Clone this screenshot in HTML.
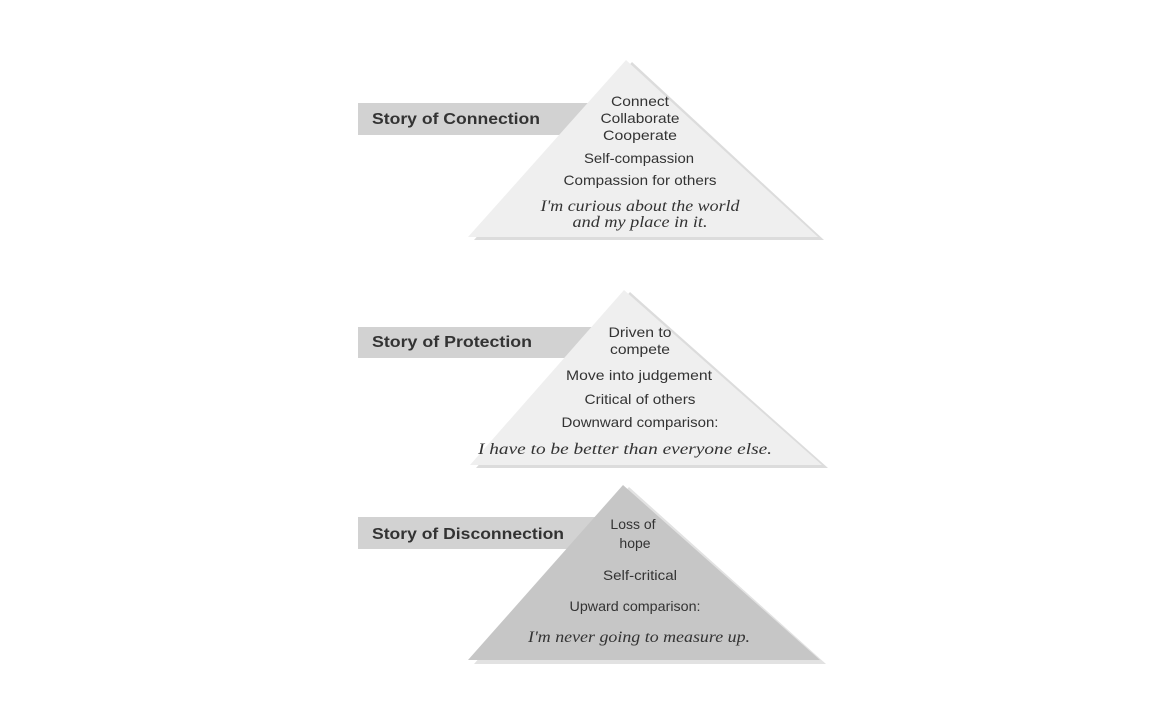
<!DOCTYPE html>
<html><head><meta charset="utf-8"><style>
html,body{margin:0;padding:0;background:#fff;}
svg{display:block}
.t{font-family:"Liberation Sans",sans-serif;font-size:14px;fill:#333;text-anchor:middle}
.i{font-family:"Liberation Serif",serif;font-style:italic;font-size:16px;fill:#333;text-anchor:middle}
.b{font-family:"Liberation Sans",sans-serif;font-weight:bold;font-size:16px;fill:#333}
</style></head><body>
<svg width="1170" height="725" viewBox="0 0 1170 725">
<!-- 1 -->
<rect x="358" y="103" width="260" height="32" fill="#d2d2d2"/>
<polygon points="632,62 824,240 474,240" fill="#dcdcdc"/>
<polygon points="626,60 818,237 468,237" fill="#efefef"/>
<text class="b" x="372" y="124" textLength="168" lengthAdjust="spacingAndGlyphs">Story of Connection</text>
<text class="t" x="640" y="106" textLength="58" lengthAdjust="spacingAndGlyphs">Connect</text>
<text class="t" x="640" y="123" textLength="79" lengthAdjust="spacingAndGlyphs">Collaborate</text>
<text class="t" x="640" y="140" textLength="74" lengthAdjust="spacingAndGlyphs">Cooperate</text>
<text class="t" x="639" y="163" textLength="110" lengthAdjust="spacingAndGlyphs">Self-compassion</text>
<text class="t" x="640" y="185" textLength="153" lengthAdjust="spacingAndGlyphs">Compassion for others</text>
<text class="i" x="640" y="211" textLength="199" lengthAdjust="spacingAndGlyphs">I'm curious about the world</text>
<text class="i" x="640" y="227" textLength="135" lengthAdjust="spacingAndGlyphs">and my place in it.</text>
<!-- 2 -->
<rect x="358" y="327" width="260" height="31" fill="#d2d2d2"/>
<polygon points="630,292 828,468 476,468" fill="#dcdcdc"/>
<polygon points="624,290 822,465 470,465" fill="#efefef"/>
<text class="b" x="372" y="347" textLength="160" lengthAdjust="spacingAndGlyphs">Story of Protection</text>
<text class="t" x="640" y="337" textLength="63" lengthAdjust="spacingAndGlyphs">Driven to</text>
<text class="t" x="640" y="354" textLength="60" lengthAdjust="spacingAndGlyphs">compete</text>
<text class="t" x="639" y="380" textLength="146" lengthAdjust="spacingAndGlyphs">Move into judgement</text>
<text class="t" x="640" y="404" textLength="111" lengthAdjust="spacingAndGlyphs">Critical of others</text>
<text class="t" x="640" y="427" textLength="157" lengthAdjust="spacingAndGlyphs">Downward comparison:</text>
<text class="i" x="625" y="454" textLength="294" lengthAdjust="spacingAndGlyphs">I have to be better than everyone else.</text>
<!-- 3 -->
<rect x="358" y="517" width="260" height="32" fill="#d2d2d2"/>
<polygon points="629,487 826,664 474,664" fill="#e2e2e2"/>
<polygon points="623,485 820,660 468,660" fill="#c6c6c6"/>
<text class="b" x="372" y="539" textLength="192" lengthAdjust="spacingAndGlyphs">Story of Disconnection</text>
<text class="t" x="633" y="529">Loss of</text>
<text class="t" x="635" y="548">hope</text>
<text class="t" x="640" y="580" textLength="74" lengthAdjust="spacingAndGlyphs">Self-critical</text>
<text class="t" x="635" y="611" textLength="131" lengthAdjust="spacingAndGlyphs">Upward comparison:</text>
<text class="i" x="639" y="642" textLength="222" lengthAdjust="spacingAndGlyphs">I'm never going to measure up.</text>
</svg>
</body></html>
